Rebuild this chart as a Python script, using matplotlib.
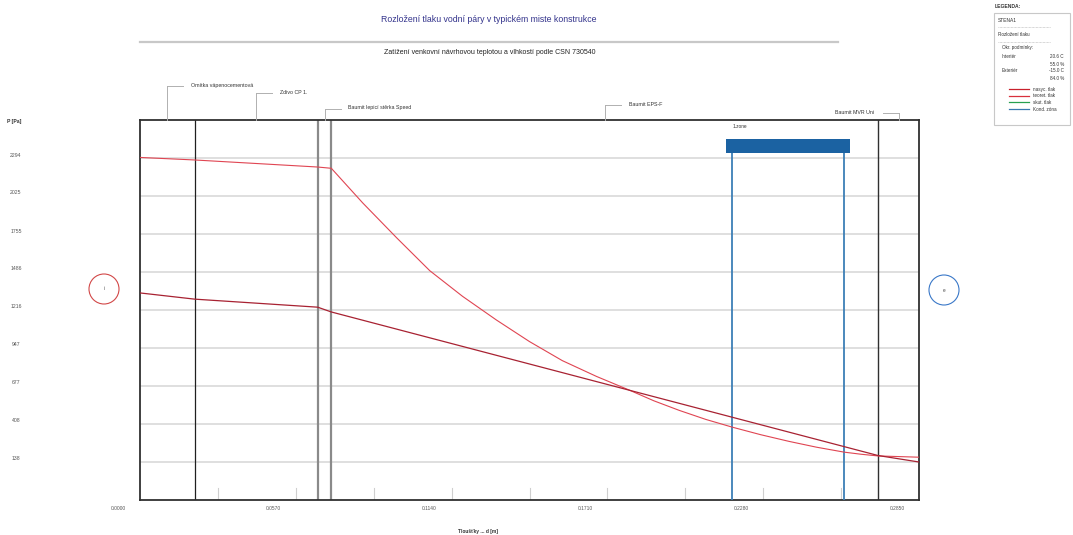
import matplotlib
matplotlib.use("Agg")
import matplotlib.pyplot as plt
from matplotlib.patches import Rectangle, Circle
from matplotlib.lines import Line2D
import numpy as np

plt.rcParams['font.family'] = ['Liberation Sans', 'DejaVu Sans']

# ---------------- data ----------------
title = "Rozložení tlaku vodní páry v typickém miste konstrukce"
subtitle = "Zatížení venkovní návrhovou teplotou a vlhkostí podle CSN 730540"

layer_names = ["Omítka vápenocementová", "Zdivo CP 1.", "Baumit lepicí stěrka Speed",
               "Baumit EPS-F", "Baumit MVR Uni"]
layer_thickness = [0.020, 0.045, 0.005, 0.200, 0.015]

# saturated vapour pressure (nasyc. tlak)
sat_d = [0.0, 0.020, 0.065, 0.070, 0.0815, 0.0939, 0.106, 0.118, 0.1304, 0.1425,
         0.1545, 0.167, 0.179, 0.188, 0.1973, 0.207, 0.2167, 0.227, 0.2375,
         0.2475, 0.2576, 0.2638, 0.270, 0.285]
sat_p = [2298, 2280, 2230, 2221, 1975, 1728, 1495, 1313, 1145, 992,
         857, 745, 648, 572, 504, 440, 385, 332, 284,
         243, 208, 193, 181, 172]

# theoretical partial vapour pressure (teoret. tlak)
part_d = [0.0, 0.020, 0.065, 0.070, 0.270, 0.285]
part_p = [1337, 1293, 1236, 1202, 184, 138]

zone_start = 0.2167
zone_end = 0.2576
zone_label = "1.zone"

y_ticks = [138, 408, 677, 947, 1216, 1486, 1755, 2025, 2294]
x_ticks = [0.0, 0.057, 0.114, 0.171, 0.228, 0.285]
x_tick_labels = ["0.0000", "0.0570", "0.1140", "0.1710", "0.2280", "0.2850"]
minor_step = 0.0285

legend_names = ["nasyc. tlak", "teoret. tlak", "skut. tlak", "Kond. zóna"]
legend_colors = ["#c8202c", "#d8303c", "#28a050", "#3a78b0"]
cond_labels = ["Interiér", "Exteriér"]
cond_temp = ["20.6 C", "-15.0 C"]
cond_rh = ["55.0 %", "84.0 %"]

# ---------------- figure ----------------
W, H = 1073, 535
fig = plt.figure(figsize=(W / 100, H / 100), dpi=100)
fig.patch.set_facecolor("white")


def fx(px):
    return px / W


def fy(py):
    return 1 - py / H


AX_L, AX_R, AX_T, AX_B = 140, 919, 120, 500
ax = fig.add_axes([fx(AX_L), fy(AX_B), fx(AX_R) - fx(AX_L), fy(AX_T) - fy(AX_B)])
total = sum(layer_thickness)
step = (y_ticks[-1] - y_ticks[0]) / (len(y_ticks) - 1)
ymin, ymax = y_ticks[0] - step, y_ticks[-1] + step
ax.set_xlim(0, total)
ax.set_ylim(ymin, ymax)
ax.set_xticks([])
ax.set_yticks([])
for s in ax.spines.values():
    s.set_color("#303030")
    s.set_linewidth(1.3)


def ypix_to_val(py):
    return ymax - (py - AX_T) / (AX_B - AX_T) * (ymax - ymin)


def d_to_px(d):
    return ax.transData.transform((d, 0))[0]


def val_to_py(v):
    return H - ax.transData.transform((0, v))[1]


# grid lines
for v in y_ticks:
    ax.axhline(v, color="#dcdcdc", lw=1.3, zorder=1)

# minor tick marks on bottom
tick_h = ypix_to_val(AX_B - 12) - ymin
for d in np.arange(1, 10) * minor_step:
    ax.plot([d, d], [ymin, ymin + tick_h], color="#cfcfcf", lw=0.8, zorder=1)

# layer boundaries
bounds = np.cumsum(layer_thickness)[:-1]
b_colors = ["#202020", "#8a8a8a", "#8a8a8a", "#303030"]
b_lw = [0.9, 1.6, 1.6, 1.0]
for b, c, lw in zip(bounds, b_colors, b_lw):
    ax.axvline(b, color=c, lw=lw, zorder=2)

# condensation zone
px_m = (d_to_px(total) - d_to_px(0)) / total
pad = 6 / px_m
rect_bot, rect_top = ypix_to_val(153), ypix_to_val(139)
ax.add_patch(Rectangle((zone_start - pad, rect_bot), zone_end - zone_start + 2 * pad,
                       rect_top - rect_bot, facecolor="#1b62a2", edgecolor="none", zorder=4))
for zx in (zone_start, zone_end):
    ax.plot([zx, zx], [ymin, rect_bot], color="#3d7fb6", lw=1.3, zorder=3)
ax.text(zone_start, ypix_to_val(126), zone_label, fontsize=3.4, color="#333333",
        ha="left", va="center")

# curves
ax.plot(sat_d, sat_p, color="#e04552", lw=0.8, zorder=5)
ax.plot(part_d, part_p, color="#a82232", lw=0.9, zorder=5)

# layer labels with leaders
mids = np.cumsum(layer_thickness) - np.array(layer_thickness) / 2
levels = [86, 93, 109, 105, 113]
dirs = [1, 1, 1, 1, -1]
for name, m, lev, dr in zip(layer_names, mids, levels, dirs):
    xm = d_to_px(m)
    x2 = xm + dr * 16
    fig.add_artist(Line2D([fx(xm), fx(xm)], [fy(AX_T), fy(lev)], color="#b0b0b0", lw=0.7))
    fig.add_artist(Line2D([fx(xm), fx(x2)], [fy(lev), fy(lev)], color="#b0b0b0", lw=0.7))
    fig.text(fx(x2 + dr * 8), fy(lev - 1), name, fontsize=3.8, color="#333333",
             ha="left" if dr > 0 else "right", va="center")

# tick labels
for d, lab in zip(x_ticks, x_tick_labels):
    fig.text(fx(d_to_px(d) - 22), fy(509), lab, fontsize=3.5, color="#555555",
             ha="center", va="center")
for v in y_ticks:
    fig.text(fx(16), fy(val_to_py(v) - 3), str(v), fontsize=3.7, color="#555555",
             ha="center", va="center")

fig.text(fx(14), fy(121), "P [Pa]", fontsize=3.7, color="#333333", fontweight="bold",
         ha="center", va="center")
fig.text(fx(478), fy(531), "Tloušťky ... d [m]", fontsize=3.5, color="#333333",
         fontweight="bold", ha="center", va="center")

# titles
fig.text(fx(489), fy(19), title, fontsize=6.3, color="#34348c", ha="center", va="center")
fig.add_artist(Line2D([fx(140), fx(838)], [fy(42), fy(42)], color="#c8c8c8", lw=1.6))
fig.text(fx(490), fy(52), subtitle, fontsize=5.0, color="#222222", ha="center", va="center")

# interior / exterior circles
fig.add_artist(Circle((104 / 100, (H - 289) / 100), 0.15, transform=fig.dpi_scale_trans,
                      fill=False, edgecolor="#d24848", lw=0.8))
fig.text(fx(104), fy(289), "i", fontsize=3.3, color="#444444", ha="center", va="center")
fig.add_artist(Circle((944 / 100, (H - 290) / 100), 0.15, transform=fig.dpi_scale_trans,
                      fill=False, edgecolor="#3a78c8", lw=0.8))
fig.text(fx(944), fy(290), "e", fontsize=3.3, color="#444444", ha="center", va="center")

# legend panel
fig.text(fx(995), fy(6), "LEGENDA:", fontsize=3.6, color="#333333", fontweight="bold",
         ha="left", va="center")
fig.add_artist(Rectangle((fx(994), fy(125)), fx(1070) - fx(994), fy(13) - fy(125),
                         transform=fig.transFigure, facecolor="white",
                         edgecolor="#c8c8c8", lw=0.8))
fig.text(fx(998), fy(21), "STENA1", fontsize=3.5, color="#333333", ha="left", va="center")
fig.add_artist(Line2D([fx(998), fx(1050)], [fy(27), fy(27)], color="#b0b0b0", lw=0.5,
                      ls=(0, (1, 1))))
fig.text(fx(998), fy(34), "Rozložení tlaku", fontsize=3.3, color="#333333", ha="left",
         va="center")
fig.add_artist(Line2D([fx(998), fx(1050)], [fy(42), fy(42)], color="#b0b0b0", lw=0.5,
                      ls=(0, (1, 1))))
fig.text(fx(1002), fy(48), "Okr. podmínky:", fontsize=3.3, color="#333333", ha="left",
         va="center")
for i, (cl, ct, cr) in enumerate(zip(cond_labels, cond_temp, cond_rh)):
    y0 = 57 + i * 14
    fig.text(fx(1002), fy(y0), cl, fontsize=3.3, color="#333333", ha="left", va="center")
    fig.text(fx(1064), fy(y0), ct, fontsize=3.3, color="#333333", ha="right", va="center")
    fig.text(fx(1064), fy(y0 + 7), cr, fontsize=3.3, color="#333333", ha="right",
             va="center")
for i, (nm, c) in enumerate(zip(legend_names, legend_colors)):
    y0 = 89 + i * 6.7
    fig.add_artist(Line2D([fx(1009), fx(1029)], [fy(y0), fy(y0)], color=c, lw=0.9))
    fig.text(fx(1033), fy(y0), nm, fontsize=3.3, color="#333333", ha="left", va="center")

fig.savefig("out.png", dpi=100)
